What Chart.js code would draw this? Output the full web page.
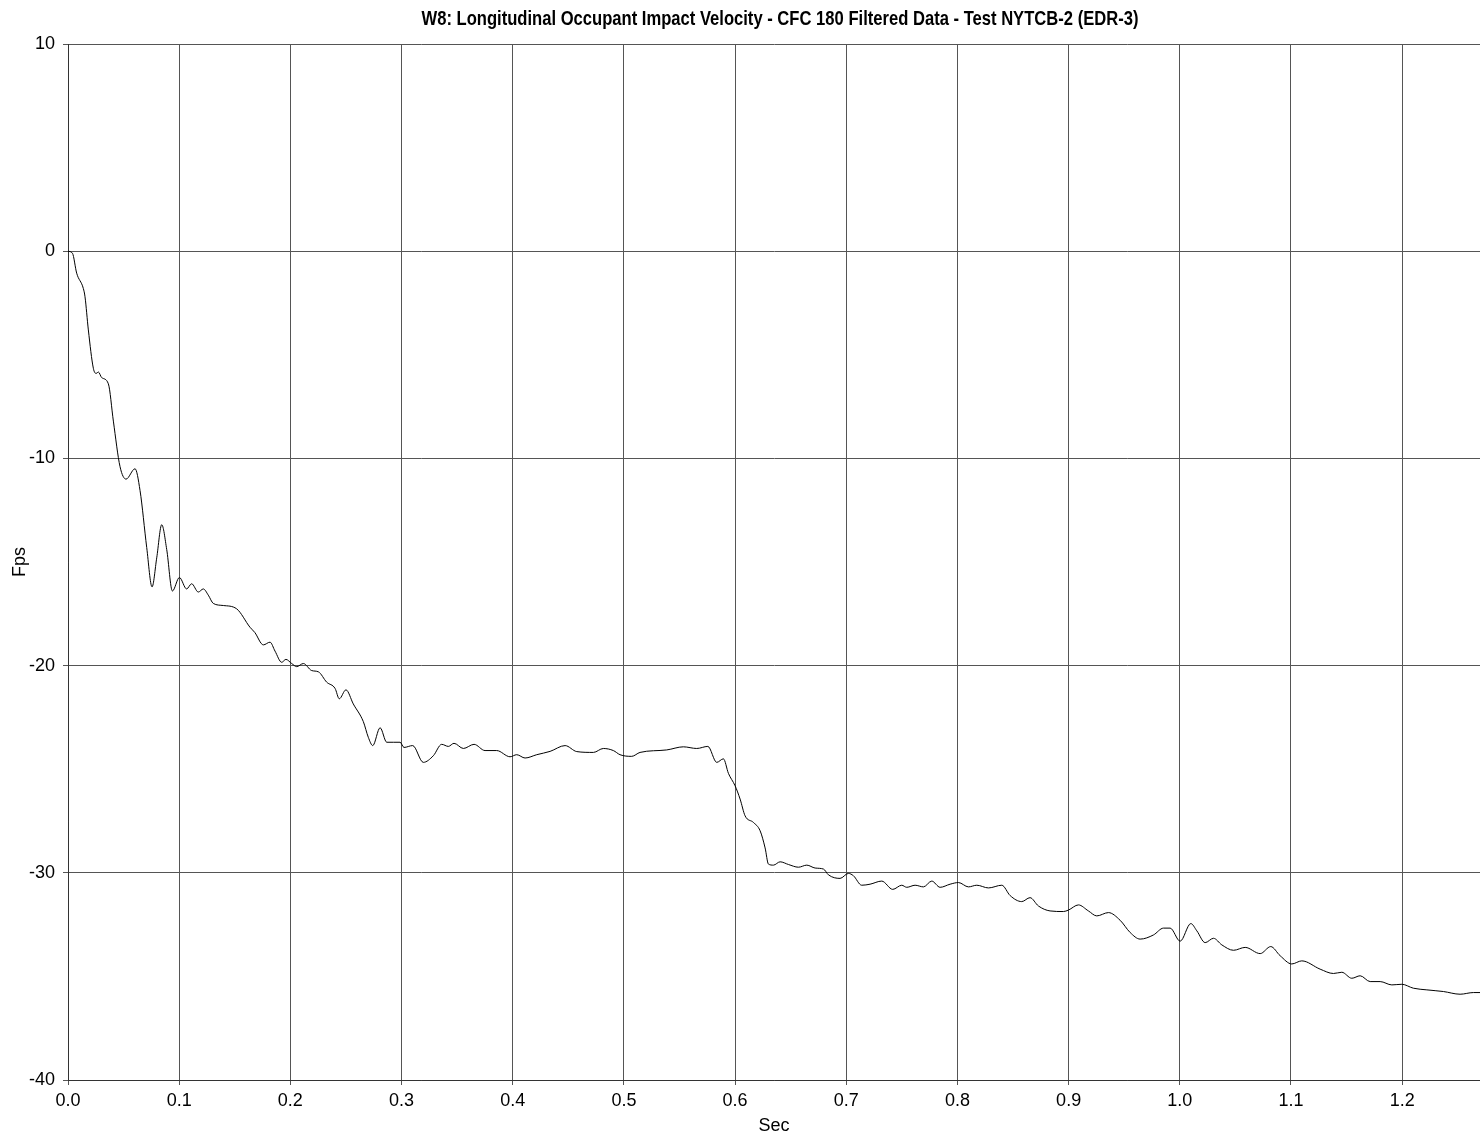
<!DOCTYPE html>
<html>
<head>
<meta charset="utf-8">
<script src="https://cdn.jsdelivr.net/npm/chart.js@4/dist/chart.umd.min.js"></script>
<style>
  html, body { margin: 0; padding: 0; background: #fff; }
  #wrap { width: 1480px; height: 1137px; position: relative; }
</style>
</head>
<body>
<div id="wrap"><canvas id="c"></canvas></div>
<script>
const chartTitle = "W8: Longitudinal Occupant Impact Velocity - CFC 180 Filtered Data - Test NYTCB-2 (EDR-3)";
const xAxisTitle = "Sec";
const yAxisTitle = "Fps";
const xTickValues = [0.0, 0.1, 0.2, 0.3, 0.4, 0.5, 0.6, 0.7, 0.8, 0.9, 1.0, 1.1, 1.2];
const yTickValues = [10, 0, -10, -20, -30, -40];

const timeSec = [
  0.000, 0.004, 0.0078, 0.0138, 0.0153, 0.0183, 0.0228, 0.0253, 0.0273, 0.0303,
  0.0363, 0.0408, 0.0468, 0.0522, 0.0603, 0.0648, 0.0708, 0.0756, 0.0798, 0.0843,
  0.0888, 0.0939, 0.1002, 0.1067, 0.1112, 0.1172, 0.1217, 0.1262, 0.1307, 0.1397,
  0.1517, 0.1637, 0.168, 0.1757, 0.1817, 0.1862, 0.1922, 0.196, 0.2012, 0.2057,
  0.2117, 0.2192, 0.2252, 0.2327, 0.2402, 0.244, 0.25, 0.2566, 0.2656, 0.2701,
  0.2741, 0.2807, 0.2867, 0.2926, 0.2987, 0.3022, 0.31, 0.3196, 0.3286, 0.3361,
  0.3421, 0.3472, 0.3556, 0.3652, 0.3751, 0.3856, 0.3976, 0.4036, 0.4111, 0.4216,
  0.4336, 0.4471, 0.4576, 0.4726, 0.4815, 0.4905, 0.4965, 0.507, 0.5145, 0.5385,
  0.5535, 0.5655, 0.5755, 0.5835, 0.5895, 0.594, 0.600, 0.6045, 0.609, 0.6165,
  0.6225, 0.627, 0.630, 0.6345, 0.6405, 0.648, 0.657, 0.6645, 0.672, 0.6795,
  0.684, 0.6944, 0.7019, 0.7064, 0.7139, 0.7214, 0.7319, 0.7418, 0.7499, 0.7544,
  0.7619, 0.7694, 0.7769, 0.7844, 0.7934, 0.8009, 0.8099, 0.8174, 0.8279, 0.8399,
  0.8474, 0.8578, 0.8653, 0.8728, 0.8833, 0.8953, 0.8998, 0.9088, 0.9178, 0.9253,
  0.9358, 0.9463, 0.9553, 0.9643, 0.9763, 0.9853, 0.9913, 1.0003, 1.0099, 1.0153,
  1.0228, 1.0303, 1.0378, 1.0483, 1.0588, 1.0723, 1.0818, 1.0902, 1.1007, 1.1097,
  1.1262, 1.1382, 1.1457, 1.1547, 1.1622, 1.1712, 1.1802, 1.1907, 1.1997, 1.2101,
  1.2222, 1.2371, 1.2521, 1.2641, 1.2701
];
const velocityFps = [
  0.0, -0.1, -1.06, -1.8, -2.2, -3.8, -5.65, -5.9, -5.83, -6.1,
  -6.4, -8.2, -10.4, -11.0, -10.5, -11.55, -14.3, -16.2, -14.8, -13.2,
  -14.4, -16.4, -15.75, -16.3, -16.05, -16.45, -16.3, -16.6, -17.0, -17.1,
  -17.26, -18.15, -18.4, -19.0, -18.87, -19.3, -19.84, -19.7, -19.9, -20.05,
  -19.9, -20.24, -20.3, -20.8, -21.1, -21.6, -21.17, -21.85, -22.7, -23.46,
  -23.86, -23.0, -23.7, -23.7, -23.7, -23.95, -23.86, -24.67, -24.35, -23.8,
  -23.9, -23.75, -24.0, -23.8, -24.1, -24.1, -24.4, -24.3, -24.46, -24.3,
  -24.14, -23.86, -24.15, -24.19, -24.0, -24.1, -24.3, -24.38, -24.19, -24.07,
  -23.92, -24.0, -23.9, -24.67, -24.5, -25.2, -25.8, -26.44, -27.25, -27.57,
  -27.97, -28.8, -29.58, -29.63, -29.47, -29.6, -29.73, -29.63, -29.77, -29.82,
  -30.1, -30.27, -30.03, -30.14, -30.6, -30.55, -30.4, -30.8, -30.6, -30.7,
  -30.6, -30.68, -30.4, -30.7, -30.55, -30.47, -30.68, -30.6, -30.73, -30.6,
  -31.1, -31.39, -31.2, -31.6, -31.84, -31.87, -31.8, -31.55, -31.84, -32.08,
  -31.92, -32.29, -32.88, -33.2, -33.0, -32.67, -32.67, -33.3, -32.45, -32.8,
  -33.37, -33.16, -33.48, -33.74, -33.6, -33.9, -33.56, -34.0, -34.4, -34.25,
  -34.65, -34.86, -34.8, -35.09, -34.97, -35.25, -35.25, -35.41, -35.38, -35.57,
  -35.65, -35.73, -35.86, -35.78, -35.78
];

const points = timeSec.map((t, i) => ({ x: t, y: velocityFps[i] }));

const titlePlugin = {
  id: 'centeredTitle',
  afterDraw(chart) {
    const ctx = chart.ctx;
    ctx.save();
    ctx.font = "bold 16.6px 'Liberation Sans Narrow', 'Arial Narrow', 'Liberation Sans', sans-serif";
    ctx.fillStyle = '#000';
    ctx.textAlign = 'center';
    ctx.textBaseline = 'middle';
    ctx.translate(780, 19.5);
    ctx.scale(1, 1.18);
    ctx.fillText(chartTitle, 0, 0);
    ctx.restore();
  }
};

const gridColor = '#555555';
const tickFont = { family: "'Liberation Sans Narrow', 'Arial Narrow', 'Liberation Sans', sans-serif", size: 18 };

new Chart(document.getElementById('c'), {
  type: 'line',
  data: {
    datasets: [{
      data: points,
      borderColor: '#000',
      borderWidth: 1,
      pointRadius: 0,
      cubicInterpolationMode: 'monotone',
      fill: false
    }]
  },
  options: {
    responsive: true,
    maintainAspectRatio: false,
    animation: false,
    events: [],
    layout: { padding: { top: 44, right: 0, bottom: 0, left: 0 } },
    plugins: { legend: { display: false }, title: { display: false }, tooltip: { enabled: false } },
    scales: {
      x: {
        type: 'linear',
        min: 0,
        max: 1.27,
        afterFit: s => { s.height = 57; },
        afterBuildTicks: s => { s.ticks = xTickValues.map(v => ({ value: v })); },
        ticks: {
          includeBounds: false,
          stepSize: 0.1,
          autoSkip: false,
          maxRotation: 0,
          color: '#000',
          font: tickFont,
          padding: 5,
          callback: v => Number(v).toFixed(1)
        },
        grid: { color: gridColor, lineWidth: 1, tickLength: 5, drawTicks: true },
        border: { color: '#333', width: 1 },
        title: { display: true, text: xAxisTitle, color: '#000', font: tickFont, padding: { top: 0, bottom: 0 } }
      },
      y: {
        type: 'linear',
        min: -40,
        max: 10,
        afterFit: s => { s.width = 68; },
        afterBuildTicks: s => { s.ticks = yTickValues.slice().reverse().map(v => ({ value: v })); },
        ticks: {
          stepSize: 10,
          color: '#000',
          font: tickFont,
          padding: 8,
          callback: v => String(v)
        },
        grid: { color: gridColor, lineWidth: 1, tickLength: 5, drawTicks: true },
        border: { color: '#333', width: 1 },
        title: { display: true, text: yAxisTitle, color: '#000', font: tickFont, padding: { top: 9, bottom: 9 } }
      }
    }
  },
  plugins: [titlePlugin]
});
</script>
</body>
</html>
